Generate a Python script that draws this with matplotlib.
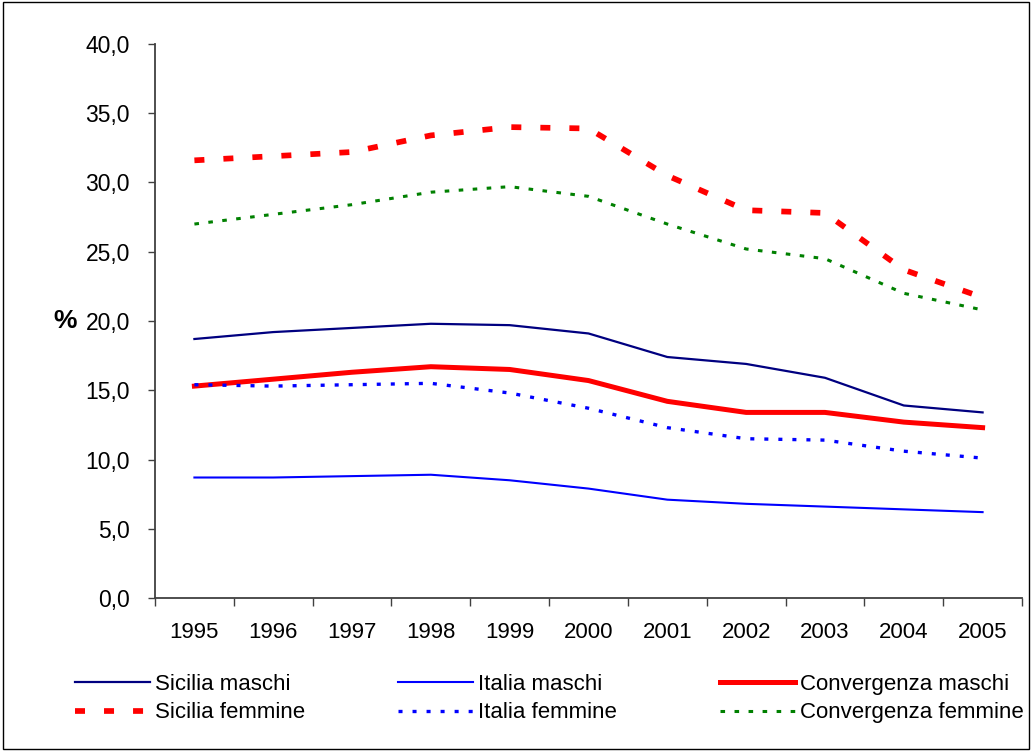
import numpy as np
import matplotlib
matplotlib.use("Agg")
import matplotlib.pyplot as plt
from matplotlib.ticker import FixedLocator, FuncFormatter, NullFormatter
from matplotlib.patches import Rectangle

plt.rcParams['font.family'] = ['Liberation Sans', 'DejaVu Sans']
plt.rcParams['lines.scale_dashes'] = False

# dati (%)
years = ['1995', '1996', '1997', '1998', '1999', '2000', '2001', '2002', '2003', '2004', '2005']
sicilia_m = [18.7, 19.2, 19.5, 19.8, 19.7, 19.1, 17.4, 16.9, 15.9, 13.9, 13.4]
italia_m = [8.7, 8.7, 8.8, 8.9, 8.5, 7.9, 7.1, 6.8, 6.6, 6.4, 6.2]
conv_m = [15.3, 15.8, 16.3, 16.7, 16.5, 15.7, 14.2, 13.4, 13.4, 12.7, 12.3]
sicilia_f = [31.6, 31.9, 32.2, 33.4, 34.0, 33.9, 30.5, 28.0, 27.8, 23.7, 21.7]
italia_f = [15.4, 15.3, 15.4, 15.5, 14.8, 13.7, 12.3, 11.5, 11.4, 10.6, 10.1]
conv_f = [27.0, 27.7, 28.4, 29.3, 29.7, 29.0, 27.0, 25.2, 24.5, 22.0, 20.8]

W, H = 1032, 751
fig = plt.figure(figsize=(W / 100, H / 100), dpi=100)
ax = fig.add_axes([155 / W, 1 - 598 / H, 867 / W, 554 / H])

x = np.arange(len(years))
l1, = ax.plot(x, sicilia_m, color='#000080', lw=1.6, label='Sicilia maschi')
l2, = ax.plot(x, italia_m, color='#0000FF', lw=1.5, label='Italia maschi')
l3, = ax.plot(x, conv_m, color='#FF0000', lw=3.6, label='Convergenza maschi')
l4, = ax.plot(x, sicilia_f, color='#FF0000', lw=4.1, dashes=(7.2, 13.7), label='Sicilia femmine')
l5, = ax.plot(x, italia_f, color='#0000FF', lw=2.4, dashes=(2.9, 7.2), label='Italia femmine')
l6, = ax.plot(x, conv_f, color='#008000', lw=2.2, dashes=(3.3, 6.8), label='Convergenza femmine')
for l in (l4, l5, l6):
    l.set_dash_capstyle('butt')

ax.set_xlim(-0.5, len(years) - 0.5)
ax.set_ylim(0, 40)
ax.set_yticks(np.arange(0, 41, 5))
ax.yaxis.set_major_formatter(FuncFormatter(lambda v, p: f"{v:.1f}".replace('.', ',')))

# tick sui confini delle categorie, etichette al centro
ax.xaxis.set_major_locator(FixedLocator(np.arange(-0.5, len(years), 1)))
ax.xaxis.set_major_formatter(NullFormatter())
ax.xaxis.set_minor_locator(FixedLocator(x))
ax.set_xticklabels(years, minor=True)
ax.tick_params(axis='x', which='major', direction='out', length=6, width=1, color='#404040')
ax.tick_params(axis='x', which='minor', length=0, pad=17, labelsize=16)
ax.tick_params(axis='y', direction='out', length=5, width=1, color='#404040', pad=13, labelsize=16.5)

for s in ('top', 'right'):
    ax.spines[s].set_visible(False)
for s in ('left', 'bottom'):
    ax.spines[s].set_color('#404040')
    ax.spines[s].set_linewidth(1.3)

fig.text(65 / W, 1 - 321 / H, '%', fontsize=19, fontweight='bold', ha='center', va='center')

# legenda su tre colonne
cols = [(75, [l1, l4]), (398, [l2, l5]), (720, [l3, l6])]
for px, hs in cols:
    fig.legend(handles=hs, loc='upper left', bbox_to_anchor=(px / W, 1 - 674 / H),
               frameon=False, fontsize=16, handlelength=3.38, handletextpad=0.22,
               labelspacing=0.33, borderpad=0, borderaxespad=0)

fig.add_artist(Rectangle((0.003, 0.003), 0.994, 0.994, transform=fig.transFigure,
                         fill=False, edgecolor='black', lw=1))

fig.savefig('out.png', dpi=100)
